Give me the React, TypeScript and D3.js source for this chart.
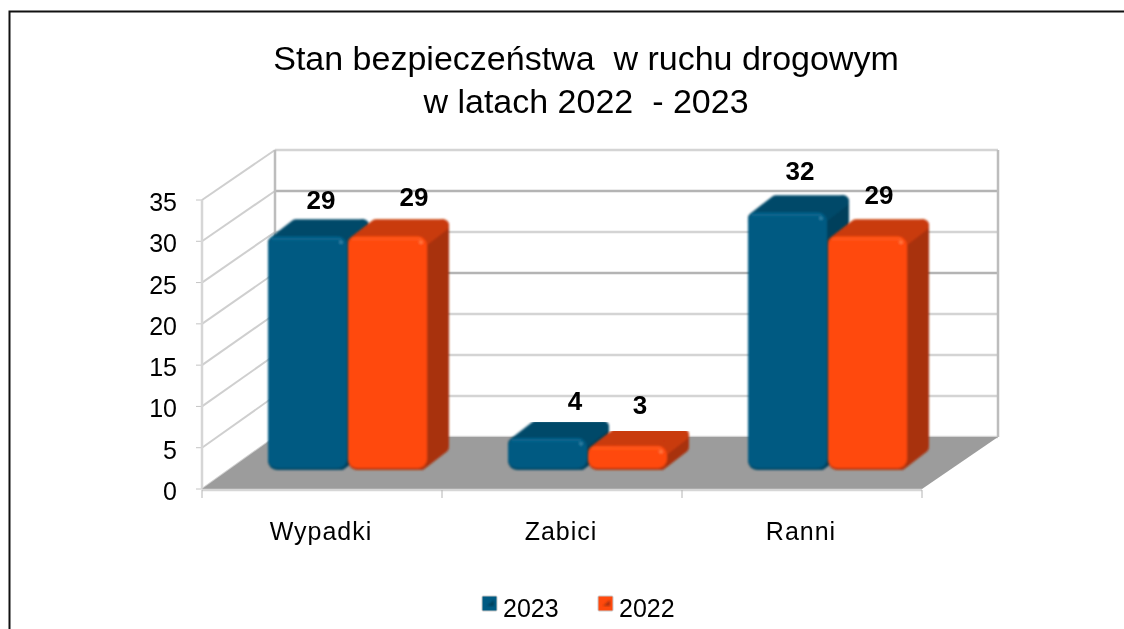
import React from 'react';
import * as d3 from 'd3';

const categories = ['Wypadki', 'Zabici', 'Ranni'];
const seriesNames = ['2023', '2022'];
const values2023 = [29, 4, 32];
const values2022 = [29, 3, 29];
const ticks = [0, 5, 10, 15, 20, 25, 30, 35];
const titleLines = ['Stan bezpieczeństwa  w ruchu drogowym', 'w latach 2022  - 2023'];

const width = 1124;
const height = 629;
const font = '"Liberation Sans", Arial, sans-serif';

// 3d box: front plane, back plane and the plane the bars stand on
const depth = { x: 73, y: -52 };
const barDepth = { x: 22, y: -17 };
const barOffset = { x: 26, y: -19 };

const x0 = d3.scaleBand<string>().domain(categories).range([202, 922]);
const x1 = d3.scaleBand<string>().domain(seriesNames).range([0, 160]);
const yFront = d3.scaleLinear().domain([0, 35]).range([489, 200]);
const yBack = d3.scaleLinear().domain([0, 35]).range([437, 150]);
const yBar = d3.scaleLinear().domain([0, 35]).range([470, 188]);
const legendX = d3.scaleOrdinal<string, number>().domain(seriesNames).range([482, 598]);

const colors = [
  { front: '#005a82', light: '#0b6c96', dark: '#004664', top: '#004a69', side: '#003f5c', spot: '#3f8fb0' },
  { front: '#ff4a10', light: '#ff5f22', dark: '#b53509', top: '#c93a08', side: '#a8320a', spot: '#ff8a50' },
];

// the labels in the original sit a little off centre, per series and category
const labelNudge = [
  [[-15, -27], [-1, -28], [-16, -32]],
  [[-2, -30], [-16, -32], [-17, -32]],
];

const outline = d3.line().curve(d3.curveLinearClosed);

function barLeft(cat: string, s: number) {
  const center = (x0(cat) as number) + x0.bandwidth() / 2 + barOffset.x;
  return center - 80 + (x1(seriesNames[s]) as number);
}

function Bar({ cat, s, value }: { cat: string; s: number; value: number }) {
  const c = colors[s];
  const bw = x1.bandwidth();
  const x = barLeft(cat, s);
  const xr = x + bw - 1;
  const yt = yBar(value);
  const yb = yBar(0);
  const r = 6;
  const top: [number, number][] = [
    [x + r, yt + r],
    [x + r + barDepth.x, yt + barDepth.y + r],
    [xr - r + barDepth.x, yt + barDepth.y + r],
    [xr - r, yt + r],
  ];
  const side: [number, number][] = [
    [xr - r, yt + r],
    [xr - r + barDepth.x, yt + barDepth.y + r],
    [xr - r + barDepth.x, yb + barDepth.y - r],
    [xr - r, yb - r],
  ];
  return (
    <g filter="url(#soft)">
      <path d={outline(side) as string} fill={c.side} stroke={c.side} strokeWidth={2 * r} strokeLinejoin="round" />
      <path d={outline(top) as string} fill={c.top} stroke={c.top} strokeWidth={2 * r} strokeLinejoin="round" />
      <rect x={x} y={yt} width={bw - 1} height={yb - yt} rx={r + 3} fill={c.dark} />
      <rect x={x} y={yt} width={bw - 1} height={yb - yt - 2} rx={r + 3} fill={c.front} />
      <rect x={x + 3} y={yt + 1} width={bw - 9} height={3} rx={1.5} fill={c.light} opacity={0.6} />
      <circle cx={xr - 6} cy={yt + 6} r={2} fill={c.spot} opacity={0.7} />
    </g>
  );
}

export default function App() {
  const series = [values2023, values2022];
  return (
    <svg
      width={width}
      height={height}
      viewBox={`0 0 ${width} ${height}`}
      style={{ position: 'absolute', left: 0, top: 0, background: '#fff' }}
      fontFamily={font}
    >
      <defs>
        <filter id="soft" x="-10%" y="-10%" width="120%" height="120%">
          <feGaussianBlur stdDeviation="0.8" />
        </filter>
        <filter id="softText" x="-5%" y="-5%" width="110%" height="110%">
          <feGaussianBlur stdDeviation="0.35" />
        </filter>
      </defs>

      {/* frame, only top and left are inside the crop */}
      <path d={`M9.5,${height}V11.5H${width}`} fill="none" stroke="#111" strokeWidth={2} />

      <g filter="url(#softText)">
        {titleLines.map((t, i) => (
          <text key={i} x={586} y={70 + i * 43} textAnchor="middle" fontSize={34} fill="#000" style={{ whiteSpace: 'pre' }}>
            {t}
          </text>
        ))}
      </g>

      {/* walls */}
      {ticks.map((t) => (
        <g key={t}>
          <line x1={202} x2={202 + depth.x} y1={yFront(t)} y2={yBack(t)} stroke="#cfcfcf" strokeWidth={2} />
          <line x1={275} x2={275 + 723} y1={yBack(t)} y2={yBack(t)} stroke={t === 30 || t === 20 ? '#b4b4b4' : '#d4d4d4'} strokeWidth={2.5} />
          <line x1={196} x2={202} y1={yFront(t)} y2={yFront(t)} stroke="#c4c4c4" strokeWidth={1} />
          <text x={177} y={yFront(t) + 11} textAnchor="end" fontSize={25} fill="#000" filter="url(#softText)">{t}</text>
        </g>
      ))}
      <line x1={202} x2={202} y1={yFront(35)} y2={yFront(0)} stroke="#d6d6d6" strokeWidth={2.5} />
      <line x1={275} x2={275} y1={yBack(35)} y2={yBack(0)} stroke="#bdbdbd" strokeWidth={2.5} />
      <line x1={998} x2={998} y1={yBack(35)} y2={yBack(0)} stroke="#bdbdbd" strokeWidth={2.5} />

      {/* floor */}
      <path
        d={outline([
          [202, yFront(0)],
          [202 + depth.x, yBack(0)],
          [998, yBack(0)],
          [922, yFront(0)],
        ]) as string}
        fill="#9c9c9c"
      />
      <line x1={202} x2={922} y1={yFront(0) + 1} y2={yFront(0) + 1} stroke="#d6d6d6" strokeWidth={2.5} />
      {[...categories.map((c) => x0(c) as number), 922].map((x) => (
        <line key={x} x1={x} x2={x} y1={yFront(0) + 1} y2={yFront(0) + 9} stroke="#b4b4b4" strokeWidth={1} />
      ))}

      {/* bars, left to right so each covers the side of the previous */}
      {categories.map((cat, i) =>
        seriesNames.map((name, s) => <Bar key={cat + name} cat={cat} s={s} value={series[s][i]} />),
      )}

      {/* value labels */}
      {categories.map((cat, i) =>
        seriesNames.map((name, s) => {
          const x = barLeft(cat, s) + x1.bandwidth() / 2 + 28 + labelNudge[s][i][0];
          return (
            <text
              key={cat + name}
              x={x}
              y={yBar(series[s][i]) + labelNudge[s][i][1]}
              textAnchor="middle"
              fontSize={26}
              fontWeight="bold"
              fill="#000"
              filter="url(#softText)"
            >
              {series[s][i]}
            </text>
          );
        }),
      )}

      {/* category labels */}
      {categories.map((cat) => (
        <text
          key={cat}
          x={(x0(cat) as number) + x0.bandwidth() / 2 - 1}
          y={540}
          textAnchor="middle"
          fontSize={25}
          letterSpacing={1}
          fill="#000"
          filter="url(#softText)"
        >
          {cat}
        </text>
      ))}

      {/* legend */}
      {seriesNames.map((name, s) => (
        <g key={name}>
          <rect x={legendX(name)} y={596} width={15} height={15} rx={1} fill={colors[s].front} stroke="#c8c8c8" strokeWidth={1} filter="url(#softText)" />
          <path
            d={outline([
              [legendX(name) + 5, 606],
              [legendX(name) + 12, 600],
              [legendX(name) + 12, 606],
            ]) as string}
            fill={colors[s].side}
            filter="url(#soft)"
          />
          <text x={legendX(name) + 21} y={617} fontSize={25} fill="#000" filter="url(#softText)">{name}</text>
        </g>
      ))}
    </svg>
  );
}
